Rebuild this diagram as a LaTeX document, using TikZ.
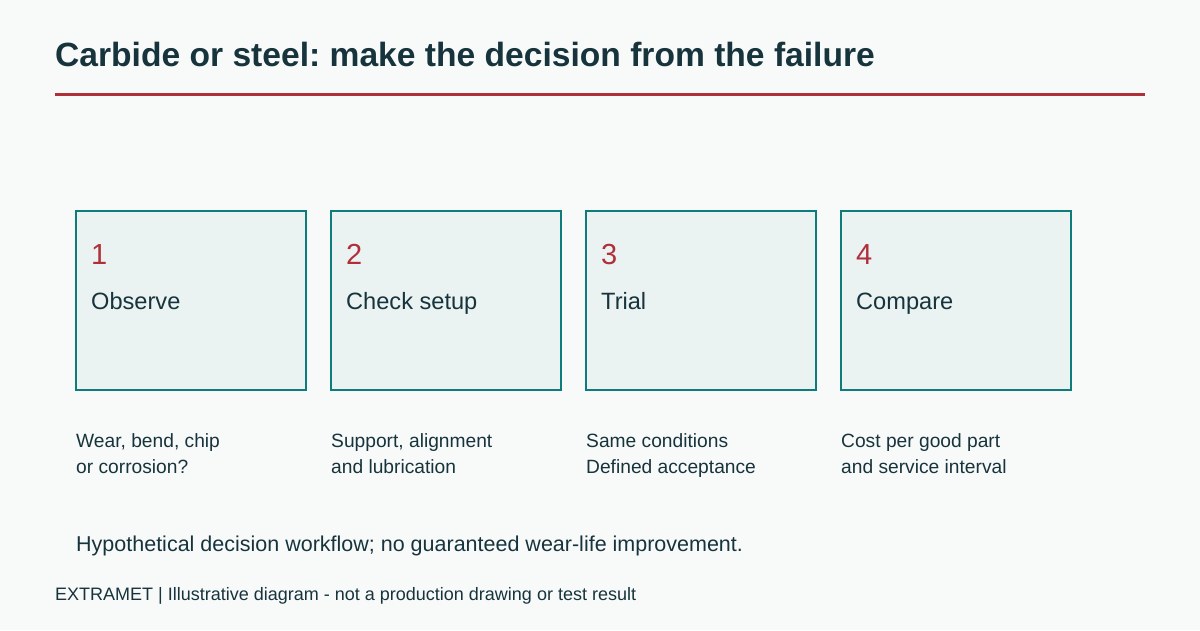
\documentclass[tikz,border=0pt]{standalone}
\usepackage{fontspec}
\setmainfont{Liberation Sans}
\frenchspacing
\definecolor{bg}{HTML}{F8FAFA}
\definecolor{ink}{HTML}{17343D}
\definecolor{accent}{HTML}{B0303A}
\definecolor{teal}{HTML}{0E7C7B}
\definecolor{boxfill}{HTML}{EAF2F2}
\tikzset{
  stepbox/.style={draw=teal, line width=2pt, fill=boxfill},
  txt/.style={anchor=base west, inner sep=0pt, text=ink},
  num/.style={anchor=base west, inner sep=0pt, text=accent, font=\fontsize{29}{30}\selectfont},
  label/.style={anchor=base west, inner sep=0pt, text=ink, font=\fontsize{23.6}{26}\selectfont},
  desc/.style={anchor=base west, inner sep=0pt, text=ink, font=\fontsize{19.2}{26}\selectfont, align=left},
}
\begin{document}
\begin{tikzpicture}[x=1pt,y=-1pt]
\fill[bg] (0,0) rectangle (1200,630);
\useasboundingbox (0,0) rectangle (1200,630);
\node[txt, font=\fontsize{33.6}{36}\selectfont\bfseries] (title) at (55,66) {Carbide or steel: make the decision from the failure};
\coordinate (rl) at (55,94);
\coordinate (rr) at (1145,94);
\draw[accent, line width=3pt] (rl) -- (rr);
\foreach \i/\x/\n/\lab/\da/\db in {1/76/1/Observe/{Wear, bend, chip}/{or corrosion?},2/331/2/Check setup/{Support, alignment}/{and lubrication},3/586/3/Trial/{Same conditions}/{Defined acceptance},4/841/4/Compare/{Cost per good part}/{and service interval}}{
  \draw[stepbox] (\x,211) rectangle (\x+230,390);
  \node[num] (n\i) at (\x+15,264) {\n};
  \node[label] (l\i) at (\x+15,309) {\lab};
  \node[desc] (d\i) at (\x,447) {\da};
  \node[desc] (e\i) at (\x,473) {\db};
}
\node[txt, font=\fontsize{21.5}{24}\selectfont] (note) at (76,551) {Hypothetical decision workflow; no guaranteed wear-life improvement.};
\node[txt, font=\fontsize{18}{20}\selectfont] (foot) at (55,600) {EXTRAMET | Illustrative diagram - not a production drawing or test result};
\end{tikzpicture}
\end{document}
